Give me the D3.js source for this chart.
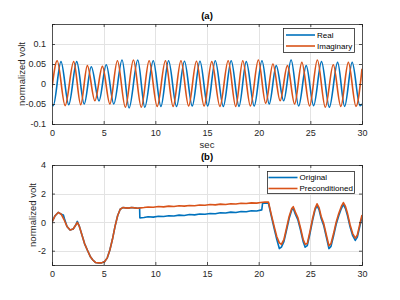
<!DOCTYPE html>
<html><head><meta charset="utf-8">
<script src="https://cdn.jsdelivr.net/npm/d3@7"></script>
<style>
html,body{margin:0;padding:0;background:#fff;}
svg{display:block;font-family:"Liberation Sans",Arial,sans-serif;}
</style></head>
<body>
<svg id="chart" width="400" height="300"></svg>
<script>
// ---------- Data ----------
const xTicks = [0, 5, 10, 15, 20, 25, 30];
const topYTicks = [-0.1, -0.05, 0, 0.05, 0.1, 0.15];
const topYLabels = ["-0.1", "-0.05", "0", "0.05", "0.1", ""];
const botYTicks = [-3, -2, 0, 2, 4];
const botYLabels = ["", "-2", "0", "2", "4"];

// Panel (a): extremes of the two oscillations
const realT = [0, 0.12, 0.87, 1.62, 2.39, 3.12, 3.8, 4.55, 5.25, 5.98, 6.78, 7.46, 8.3, 8.98, 9.8, 10.54, 11.28, 12.05, 12.82, 13.57, 14.32, 15.07, 15.8, 16.58, 17.34, 18.1, 18.8, 19.57, 20.32, 21.02, 21.7, 22.42, 23.14, 23.87, 24.6, 25.32, 26.08, 26.84, 27.64, 28.32, 29.05, 29.8, 30];
const realV = [-0.05, -0.054, 0.056, -0.052, 0.056, -0.05, 0.043, -0.042, 0.048, -0.05, 0.06, -0.06, 0.06, -0.058, 0.058, -0.056, 0.058, -0.056, 0.057, -0.055, 0.057, -0.055, 0.058, -0.056, 0.058, -0.056, 0.056, -0.055, 0.058, -0.05, 0.046, -0.042, 0.06, -0.055, 0.046, -0.054, 0.056, -0.058, 0.054, -0.056, 0.054, -0.054, -0.05];
const imagT = [0, 0.5, 1.27, 2.1, 2.78, 3.42, 4.15, 4.88, 5.6, 6.33, 7.1, 7.88, 8.64, 9.4, 10.18, 10.98, 11.72, 12.48, 13.22, 13.98, 14.72, 15.46, 16.25, 17.05, 17.78, 18.46, 19.2, 19.97, 20.68, 21.38, 22.08, 22.78, 23.48, 24.18, 24.93, 25.68, 26.45, 27.22, 27.95, 28.68, 29.42, 30];
const imagV = [-0.01, 0.058, -0.054, 0.056, -0.052, 0.046, -0.042, 0.044, -0.05, 0.058, -0.058, 0.06, -0.058, 0.058, -0.056, 0.058, -0.056, 0.058, -0.055, 0.057, -0.055, 0.056, -0.056, 0.058, -0.056, 0.058, -0.055, 0.06, -0.048, 0.05, -0.042, 0.046, -0.05, 0.054, -0.055, 0.06, -0.058, 0.048, -0.056, 0.054, -0.056, 0.038];

// Panel (b)
const origT = [0, 0.3, 0.6, 0.9, 1.1, 1.2, 1.45, 1.75, 2.05, 2.3, 2.45, 2.65, 2.9, 3.15, 3.45, 3.7, 3.95, 4.2, 4.5, 4.8, 5.1, 5.35, 5.6, 5.85, 6.1, 6.35, 6.6, 6.85, 7.1, 7.4, 7.7, 8.0, 8.3, 8.48, 8.5, 8.9, 9.3, 9.8, 10.3, 10.8, 11.3, 11.8, 12.3, 12.8, 13.3, 13.8, 14.3, 14.8, 15.3, 15.8, 16.3, 16.8, 17.3, 17.8, 18.3, 18.8, 19.3, 19.8, 20.3, 20.38, 20.6, 20.95, 21.2, 21.5, 21.75, 22.0, 22.2, 22.45, 22.7, 22.95, 23.2, 23.35, 23.55, 23.8, 24.05, 24.3, 24.5, 24.7, 24.95, 25.2, 25.45, 25.65, 25.85, 26.05, 26.3, 26.55, 26.8, 27.0, 27.25, 27.5, 27.75, 28.0, 28.2, 28.4, 28.6, 28.85, 29.1, 29.35, 29.55, 29.8, 30];
const origV = [0, 0.45, 0.68, 0.55, 0.5, 0.25, -0.3, -0.55, -0.48, -0.2, 0.05, -0.3, -0.9, -1.5, -2.0, -2.4, -2.65, -2.82, -2.85, -2.85, -2.75, -2.5, -1.95, -1.2, -0.3, 0.45, 0.9, 1.02, 1.0, 0.98, 1.03, 1.0, 0.97, 0.98, 0.3, 0.32, 0.38, 0.35, 0.41, 0.39, 0.45, 0.43, 0.49, 0.47, 0.53, 0.51, 0.57, 0.55, 0.61, 0.59, 0.66, 0.64, 0.7, 0.68, 0.75, 0.73, 0.8, 0.78, 0.86, 1.33, 1.33, 1.32, 0.5, -0.45, -1.2, -1.85, -1.75, -1.35, -0.55, 0.25, 0.85, 0.95, 0.55, 0.15, -0.55, -1.35, -1.75, -1.65, -0.85, 0.05, 0.85, 1.15, 0.85, 0.25, -0.25, -1.05, -1.85, -1.7, -0.95, -0.15, 0.45, 0.95, 1.25, 0.95, 0.45, -0.35, -0.95, -1.28, -1.05, -0.25, 0.35];
const precT = [0, 0.3, 0.6, 0.9, 1.15, 1.45, 1.75, 2.05, 2.3, 2.45, 2.65, 2.9, 3.15, 3.45, 3.7, 3.95, 4.2, 4.5, 4.8, 5.1, 5.35, 5.6, 5.85, 6.1, 6.35, 6.6, 6.85, 7.1, 7.4, 7.7, 8.0, 8.3, 8.6, 8.9, 9.3, 9.8, 10.3, 10.8, 11.3, 11.8, 12.3, 12.8, 13.3, 13.8, 14.3, 14.8, 15.3, 15.8, 16.3, 16.8, 17.3, 17.8, 18.3, 18.8, 19.3, 19.8, 20.2, 20.6, 20.95, 21.2, 21.5, 21.75, 22.0, 22.2, 22.45, 22.7, 22.95, 23.2, 23.35, 23.55, 23.8, 24.05, 24.3, 24.5, 24.7, 24.95, 25.2, 25.45, 25.65, 25.85, 26.05, 26.3, 26.55, 26.8, 27.0, 27.25, 27.5, 27.75, 28.0, 28.2, 28.4, 28.6, 28.85, 29.1, 29.35, 29.55, 29.8, 30];
const precV = [0, 0.45, 0.68, 0.55, 0.2, -0.3, -0.55, -0.48, -0.2, -0.02, -0.3, -0.9, -1.5, -2.0, -2.4, -2.65, -2.82, -2.85, -2.85, -2.75, -2.5, -1.95, -1.2, -0.3, 0.45, 0.9, 1.02, 1.0, 0.98, 1.03, 1.0, 0.97, 1.0, 1.02, 1.06, 1.04, 1.1, 1.07, 1.12, 1.1, 1.15, 1.12, 1.17, 1.15, 1.2, 1.18, 1.23, 1.21, 1.26, 1.24, 1.29, 1.27, 1.32, 1.3, 1.35, 1.33, 1.38, 1.4, 1.4, 0.6, -0.3, -1.0, -1.45, -1.55, -1.2, -0.4, 0.4, 0.95, 1.08, 0.7, 0.3, -0.4, -1.2, -1.55, -1.5, -0.7, 0.2, 0.95, 1.28, 1.0, 0.4, -0.1, -0.9, -1.65, -1.5, -0.8, 0.0, 0.6, 1.1, 1.37, 1.1, 0.6, -0.2, -0.8, -1.12, -0.9, -0.1, 0.5];

// ---------- Drawing ----------
const BLUE = "#0072BD", ORANGE = "#D95319", AX = "#262626", GRID = "#e3e3e3";
const svg = d3.select("#chart");

function panel(cfg) {
  const {top, bottom, yDomain, yTicks, yLabels, title, xlabel, series, legend, ylabelX, id} = cfg;
  const left = 52, right = 362;
  const x = d3.scaleLinear().domain([0, 30]).range([left, right]);
  const y = d3.scaleLinear().domain(yDomain).range([bottom, top]);
  const g = svg.append("g");

  g.append("rect").attr("x", left).attr("y", top).attr("width", right - left).attr("height", bottom - top).attr("fill", "#fff");

  // grid
  g.append("g").selectAll("line").data(xTicks.filter(d => d > 0 && d < 30)).join("line")
    .attr("x1", d => Math.round(x(d)) + 0.5).attr("x2", d => Math.round(x(d)) + 0.5)
    .attr("y1", top).attr("y2", bottom).attr("stroke", GRID).attr("stroke-width", 1);
  g.append("g").selectAll("line").data(yTicks.filter(d => d > yDomain[0] && d < yDomain[1])).join("line")
    .attr("y1", d => Math.round(y(d)) + 0.5).attr("y2", d => Math.round(y(d)) + 0.5)
    .attr("x1", left).attr("x2", right).attr("stroke", GRID).attr("stroke-width", 1);

  // clip
  svg.append("clipPath").attr("id", id).append("rect")
    .attr("x", left).attr("y", top).attr("width", right - left).attr("height", bottom - top);

  const plot = g.append("g").attr("clip-path", `url(#${id})`);
  series.forEach(s => {
    const pts = s.t.map((t, i) => [t, s.v[i]]);
    const line = d3.line().x(d => x(d[0])).y(d => y(d[1])).curve(s.curve);
    plot.append("path").attr("d", line(pts)).attr("fill", "none")
      .attr("stroke", s.color).attr("stroke-width", 1.6).attr("stroke-linejoin", "round");
  });

  // axes with inward ticks on all four sides
  const tl = 3;
  const axB = d3.axisBottom(x).tickValues(xTicks).tickSize(-tl).tickPadding(6).tickFormat(d3.format("d"));
  const axT = d3.axisTop(x).tickValues(xTicks).tickSize(-tl).tickFormat("");
  const axL = d3.axisLeft(y).tickValues(yTicks).tickSize(-tl).tickPadding(6).tickFormat((d, i) => yLabels[i]);
  const axR = d3.axisRight(y).tickValues(yTicks).tickSize(-tl).tickFormat("");
  [[axB, `translate(0,${bottom})`], [axT, `translate(0,${top})`], [axL, `translate(${left},0)`], [axR, `translate(${right},0)`]].forEach(([ax, tr]) => {
    const a = g.append("g").attr("transform", tr).call(ax);
    a.select(".domain").attr("stroke", AX).attr("stroke-width", 0.8);
    a.selectAll(".tick line").attr("stroke", AX).attr("stroke-width", 0.8);
    a.selectAll(".tick text").attr("fill", AX).attr("font-size", 9).attr("font-family", "Liberation Sans, Arial, sans-serif");
  });

  // title
  g.append("text").attr("x", (left + right) / 2).attr("y", top - 5).attr("text-anchor", "middle")
    .attr("font-size", 9.5).attr("font-weight", "bold").attr("fill", "#000").text(title);
  // y label
  g.append("text").attr("transform", `translate(${ylabelX},${(top + bottom) / 2}) rotate(-90)`)
    .attr("text-anchor", "middle").attr("dy", "0.35em").attr("font-size", 9.5).attr("fill", AX).text("normalized volt");
  if (xlabel) {
    g.append("text").attr("x", (left + right) / 2).attr("y", bottom + 24).attr("text-anchor", "middle")
      .attr("font-size", 9.5).attr("fill", AX).text(xlabel);
  }

  // legend
  const L = legend;
  const lg = g.append("g");
  lg.append("rect").attr("x", L.x0 + 0.5).attr("y", L.y0 + 0.5).attr("width", L.x1 - L.x0).attr("height", L.y1 - L.y0)
    .attr("fill", "#fff").attr("stroke", AX).attr("stroke-width", 0.8);
  L.items.forEach((it, i) => {
    const yy = L.rows[i];
    lg.append("line").attr("x1", L.lx0).attr("x2", L.lx1).attr("y1", yy).attr("y2", yy)
      .attr("stroke", it.color).attr("stroke-width", 1.6);
    lg.append("text").attr("x", L.lx1 + 2).attr("y", yy).attr("dy", "0.35em").attr("font-size", 8)
      .attr("fill", "#000").text(it.name);
  });
}

panel({
  id: "clipA", top: 24, bottom: 124, yDomain: [-0.1, 0.15], yTicks: topYTicks, yLabels: topYLabels,
  title: "(a)", xlabel: "sec", ylabelX: 22,
  series: [
    {t: realT, v: realV, color: BLUE, curve: d3.curveMonotoneX},
    {t: imagT, v: imagV, color: ORANGE, curve: d3.curveMonotoneX}
  ],
  legend: {x0: 283, x1: 354, y0: 28, y1: 52, lx0: 286, lx1: 315, rows: [35, 46],
    items: [{name: "Real", color: BLUE}, {name: "Imaginary", color: ORANGE}]}
});

panel({
  id: "clipB", top: 165, bottom: 265, yDomain: [-3, 4], yTicks: botYTicks, yLabels: botYLabels,
  title: "(b)", xlabel: null, ylabelX: 33,
  series: [
    {t: origT, v: origV, color: BLUE, curve: d3.curveLinear},
    {t: precT, v: precV, color: ORANGE, curve: d3.curveLinear}
  ],
  legend: {x0: 267, x1: 354, y0: 171, y1: 193, lx0: 268.5, lx1: 297.5, rows: [177.5, 188.5],
    items: [{name: "Original", color: BLUE}, {name: "Preconditioned", color: ORANGE}]}
});
</script>
</body></html>
